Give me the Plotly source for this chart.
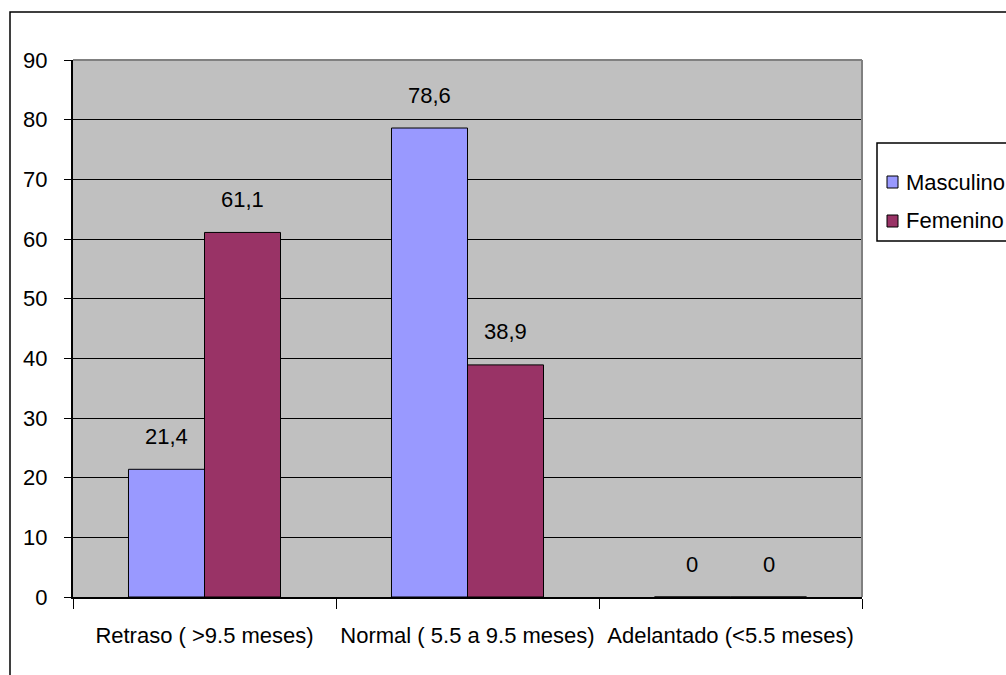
import plotly.graph_objects as go

# Age categories and percentages per sex
categories = ["Retraso ( >9.5 meses)", "Normal ( 5.5 a 9.5 meses)", "Adelantado (<5.5 meses)"]
masculino = [21.4, 78.6, 0]
femenino = [61.1, 38.9, 0]
y_ticks = [0, 10, 20, 30, 40, 50, 60, 70, 80, 90]

COLOR_M = "#9999FF"
COLOR_F = "#993366"
FONT = "Liberation Sans Narrow, Arial Narrow, Liberation Sans, Arial, sans-serif"
FS = 22
W, H = 1006, 675
L, R, T, B = 73, 144, 60, 78
plot_w = W - L - R
plot_h = H - T - B


def fmt(v):
    return str(int(v)) if float(v).is_integer() else f"{v:.1f}".replace(".", ",")


def px_x(p):
    return (p - L) / plot_w


def px_y(p):
    return (H - B - p) / plot_h


series = [("Masculino", masculino, COLOR_M), ("Femenino", femenino, COLOR_F)]

fig = go.Figure()
for name, vals, color in series:
    fig.add_trace(go.Bar(name=name, x=categories, y=vals, showlegend=False,
                         marker=dict(color=color, line=dict(color="black", width=1))))

# Value labels above each bar
bargap = 0.422
bar_px = plot_w / len(categories) * (1 - bargap) / 2
annotations = []
for (name, vals, color), shift in zip(series, (-bar_px / 2, bar_px / 2)):
    for cat, v in zip(categories, vals):
        annotations.append(dict(x=cat, y=v, xref="x", yref="y", text=fmt(v),
                                showarrow=False, xshift=shift, yshift=33,
                                font=dict(family=FONT, size=FS, color="black")))

shapes = [
    # outer chart frame
    dict(type="rect", xref="paper", yref="paper", x0=px_x(10), y0=px_y(720),
         x1=px_x(1060), y1=px_y(12), line=dict(color="black", width=1.5), layer="below"),
    # gray plot-area border on top and right
    dict(type="line", xref="paper", yref="paper", x0=0, x1=1, y0=1, y1=1,
         line=dict(color="#808080", width=2)),
    dict(type="line", xref="paper", yref="paper", x0=1, x1=1, y0=0, y1=1,
         line=dict(color="#808080", width=2)),
    # legend box
    dict(type="rect", xref="paper", yref="paper", x0=px_x(877), y0=px_y(241),
         x1=px_x(1040), y1=px_y(143), line=dict(color="black", width=1.5),
         fillcolor="white"),
]

# Legend entries: swatch + label
for i, (name, vals, color) in enumerate(series):
    cy = 182 + i * 39
    shapes.append(dict(type="rect", xref="paper", yref="paper",
                       x0=px_x(887), x1=px_x(898), y0=px_y(cy + 6), y1=px_y(cy - 6),
                       fillcolor=color, line=dict(color="black", width=1)))
    annotations.append(dict(x=px_x(904), y=px_y(cy), xref="paper", yref="paper",
                            xanchor="left", yanchor="middle", text=name,
                            showarrow=False,
                            font=dict(family=FONT, size=FS, color="black")))

fig.update_layout(
    width=W, height=H,
    margin=dict(l=L, r=R, t=T, b=B, pad=0, autoexpand=False),
    paper_bgcolor="white",
    plot_bgcolor="#C0C0C0",
    barmode="group",
    bargap=bargap,
    bargroupgap=0,
    font=dict(family=FONT, size=FS, color="black"),
    showlegend=False,
    annotations=annotations,
    shapes=shapes,
)
fig.update_xaxes(type="category", showgrid=False, showline=True, linecolor="black",
                 linewidth=2, ticks="outside", tickson="boundaries", ticklen=10,
                 tickcolor="black", tickwidth=1, ticklabelstandoff=18, tickangle=0,
                 automargin=False, tickfont=dict(family=FONT, size=FS))
fig.update_yaxes(range=[0, 90], tickvals=y_ticks, showgrid=True, gridcolor="black",
                 gridwidth=1, showline=True, linecolor="black", linewidth=2,
                 ticks="outside", ticklen=7, tickcolor="black", tickwidth=1,
                 ticklabelstandoff=12, zeroline=False, automargin=False,
                 tickfont=dict(family=FONT, size=FS))

fig.write_html("out.html")
